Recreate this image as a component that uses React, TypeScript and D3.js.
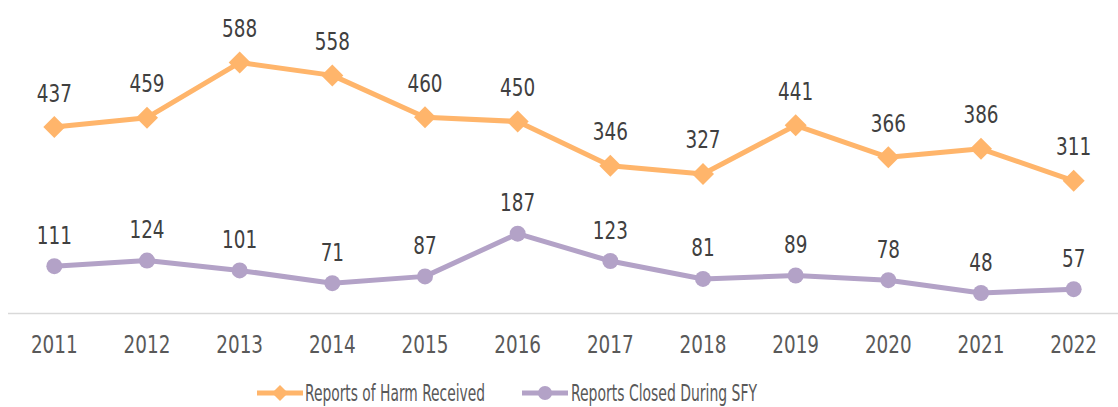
import React from "react";
import * as d3 from "d3";

const years = ["2011","2012","2013","2014","2015","2016","2017","2018","2019","2020","2021","2022"];
const harmReceived = [437, 459, 588, 558, 460, 450, 346, 327, 441, 366, 386, 311];
const closedSFY = [111, 124, 101, 71, 87, 187, 123, 81, 89, 78, 48, 57];
const seriesNames = ["Reports of Harm Received", "Reports Closed During SFY"];

const W = 1118, H = 407;
const FONT = "'DejaVu Sans', sans-serif";
const ORANGE = "#FFB56B";
const PURPLE = "#B3A2C7";
const DIGIT_W = 11.7;

export default function App() {
  const x = d3.scaleBand<string>().domain(years).range([8, 1120]);
  const y = d3.scaleLinear().domain([0, 700]).range([313.5, 14.8]);
  const cx = (d: string) => (x(d) as number) + x.bandwidth() / 2;
  const line = d3.line<number>().x((_, i) => cx(years[i])).y((v) => y(v));
  const sq = (s: number) => `M0,${-s}L${s},0L0,${s}L${-s},0Z`;
  const tl = (s: string) => s.length * DIGIT_W;

  return (
    <svg width={W} height={H} style={{ position: "absolute", left: 0, top: 0, background: "#fff" }} fontFamily={FONT} fontStretch="condensed">
      <line x1={8} x2={1118} y1={y(0)} y2={y(0)} stroke="#D9D9D9" strokeWidth={1.5} />
      {years.map((yr) => (
        <text key={yr} x={cx(yr)} y={353} textAnchor="middle" fontSize={25} fill="#595959" textLength={tl(yr)} lengthAdjust="spacingAndGlyphs">{yr}</text>
      ))}
      <path d={line(harmReceived) || ""} fill="none" stroke={ORANGE} strokeWidth={5} strokeLinejoin="round" />
      <path d={line(closedSFY) || ""} fill="none" stroke={PURPLE} strokeWidth={5} strokeLinejoin="round" />
      {harmReceived.map((v, i) => (
        <g key={"h" + i}>
          <path d={sq(11)} transform={`translate(${cx(years[i])},${y(v)})`} fill={ORANGE} />
          <text x={cx(years[i])} y={y(v) - 25.5} textAnchor="middle" fontSize={25} fill="#404040" textLength={tl(String(v))} lengthAdjust="spacingAndGlyphs">{v}</text>
        </g>
      ))}
      {closedSFY.map((v, i) => (
        <g key={"c" + i}>
          <circle cx={cx(years[i])} cy={y(v)} r={8} fill={PURPLE} />
          <text x={cx(years[i])} y={y(v) - 22.5} textAnchor="middle" fontSize={25} fill="#404040" textLength={tl(String(v))} lengthAdjust="spacingAndGlyphs">{v}</text>
        </g>
      ))}
      <g transform="translate(257,393)">
        <line x1={0} x2={46} y1={0} y2={0} stroke={ORANGE} strokeWidth={5} />
        <path d={sq(8)} transform="translate(23,0)" fill={ORANGE} />
        <text x={48} y={8} fontSize={23} fill="#595959" textLength={180} lengthAdjust="spacingAndGlyphs">{seriesNames[0]}</text>
      </g>
      <g transform="translate(522,393)">
        <line x1={0} x2={46} y1={0} y2={0} stroke={PURPLE} strokeWidth={5} />
        <circle cx={23} cy={0} r={7} fill={PURPLE} />
        <text x={49} y={8} fontSize={23} fill="#595959" textLength={186} lengthAdjust="spacingAndGlyphs">{seriesNames[1]}</text>
      </g>
    </svg>
  );
}
